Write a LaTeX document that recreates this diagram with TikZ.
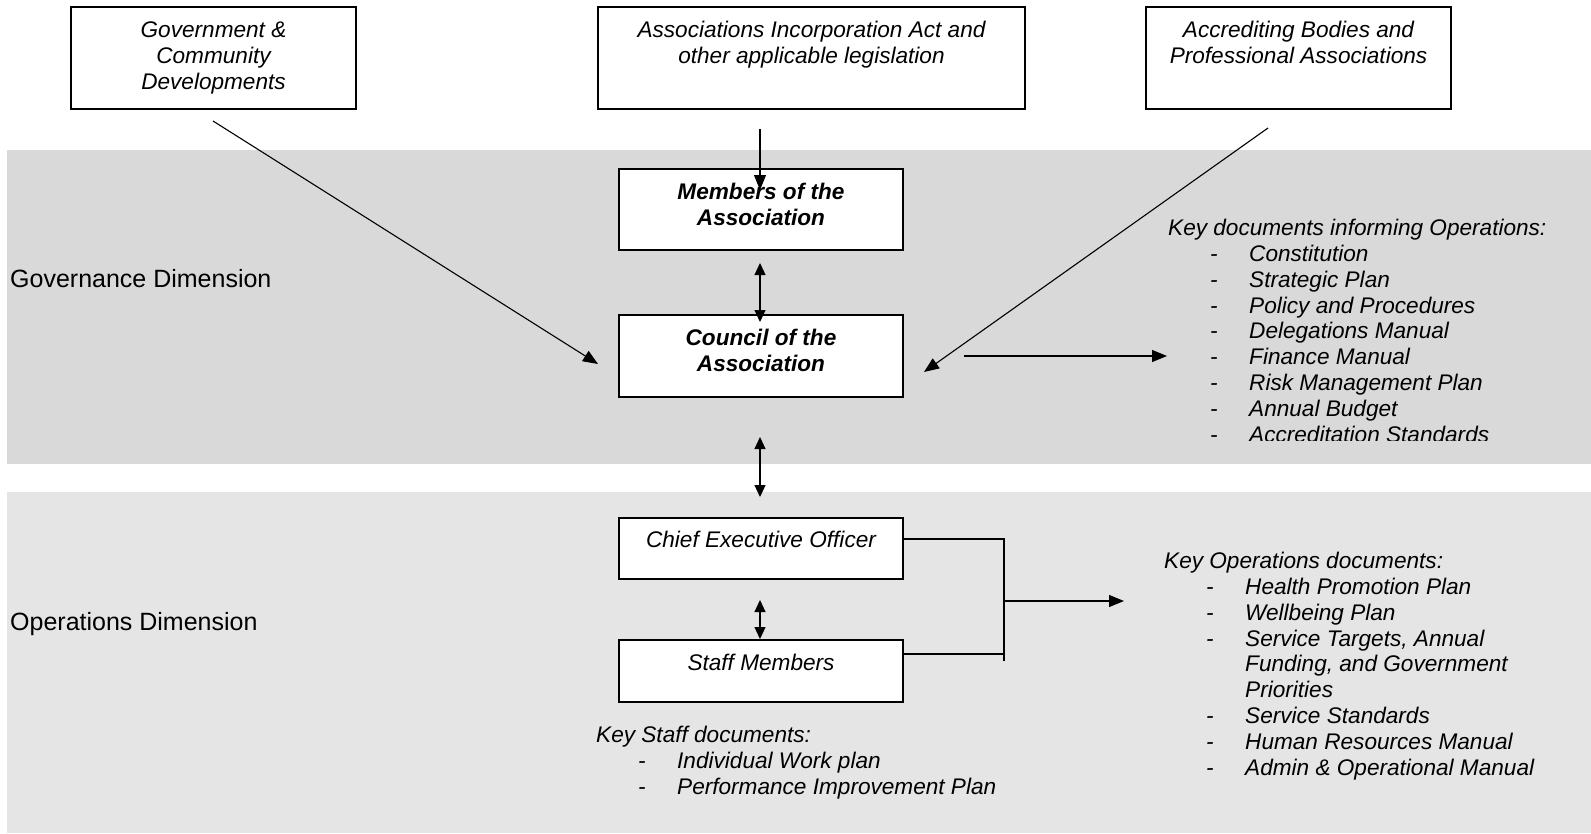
\documentclass[tikz,border=0pt]{standalone}
\usepackage{fontspec}
\setmainfont{Liberation Sans}
\usetikzlibrary{arrows.meta}
\definecolor{govband}{HTML}{D9D9D9}
\definecolor{opsband}{HTML}{E5E5E5}
\newcommand{\lstitem}[1]{\hspace*{42pt}\makebox[39pt][l]{-}#1}
\begin{document}
\begin{tikzpicture}[x=1pt,y=-1pt,
  box/.style={draw=black, line width=1.2pt, fill=white, inner sep=0pt, minimum height=#1},
  txt/.style={inner sep=0pt, align=center, anchor=base, font=\fontsize{22.6}{26}\selectfont\itshape},
  btxt/.style={inner sep=0pt, align=center, anchor=base, font=\fontsize{22.6}{26.5}\selectfont\bfseries\itshape},
  lst/.style={inner sep=0pt, align=left, anchor=base west, font=\fontsize{22.6}{25.8}\selectfont\itshape},
  dimlabel/.style={inner sep=0pt, anchor=base west, font=\fontsize{25}{30}\selectfont},
  arr/.style={line width=1.1pt, -{Triangle[length=15pt,width=12pt]}},
  darr/.style={line width=1.1pt, {Triangle[length=12pt,width=11pt]}-{Triangle[length=12pt,width=11pt]}},
  ln/.style={line width=1.2pt}
]
\useasboundingbox (0,0) rectangle (1591,833);
\fill[white] (0,0) rectangle (1591,833);
\fill[govband] (7,150) rectangle (1591,464);
\fill[opsband] (7,492) rectangle (1591,833);

% top boxes
\node[box=102pt, minimum width=285pt] (gcd) at (213.5,58) {};
\node[txt] (gcdt) at (213.5,89) {Government \&\\Community\\Developments};
\node[box=102pt, minimum width=427pt] (aia) at (811.5,58) {};
\node[txt] (aiat) at (811.5,63) {Associations Incorporation Act and\\other applicable legislation};
\node[box=102pt, minimum width=305pt] (abp) at (1298.5,58) {};
\node[txt] (abpt) at (1298.5,63) {Accrediting Bodies and\\Professional Associations};

% middle boxes
\node[box=81pt, minimum width=284pt] (mem) at (761,209.5) {};
\node[btxt] (memt) at (761,225.5) {Members of the\\Association};
\node[box=82pt, minimum width=284pt] (cou) at (761,356) {};
\node[btxt] (cout) at (761,371.5) {Council of the\\Association};
\node[box=61pt, minimum width=284pt] (ceo) at (761,548.5) {};
\node[txt] (ceot) at (761,547) {Chief Executive Officer};
\node[box=62pt, minimum width=284pt] (stf) at (761,671) {};
\node[txt] (stft) at (761,670) {Staff Members};

% dimension labels
\node[dimlabel] (govl) at (10,287) {Governance Dimension};
\node[dimlabel] (opsl) at (10,630) {Operations Dimension};

% lists (anchored at the baseline of their last line)
\begin{scope}
\clip (1100,150) rectangle (1591,440);
\node[lst] (govdocs) at (1168,442) {Key documents informing Operations:\\
\lstitem{Constitution}\\
\lstitem{Strategic Plan}\\
\lstitem{Policy and Procedures}\\
\lstitem{Delegations Manual}\\
\lstitem{Finance Manual}\\
\lstitem{Risk Management Plan}\\
\lstitem{Annual Budget}\\
\lstitem{Accreditation Standards}};
\end{scope}
\node[lst] (opsdocs) at (1164,775) {Key Operations documents:\\
\lstitem{Health Promotion Plan}\\
\lstitem{Wellbeing Plan}\\
\lstitem{Service Targets, Annual}\\
\hspace*{81pt}Funding, and Government\\
\hspace*{81pt}Priorities\\
\lstitem{Service Standards}\\
\lstitem{Human Resources Manual}\\
\lstitem{Admin \& Operational Manual}};
\node[lst] (stfdocs) at (596,794) {Key Staff documents:\\
\lstitem{Individual Work plan}\\
\lstitem{Performance Improvement Plan}};

% connector end points
\coordinate (a1s) at (213,121);
\coordinate (a1e) at (598,364);
\coordinate (a2s) at (760,129);
\coordinate (a2e) at (760,190);
\coordinate (a3s) at (760,263);
\coordinate (a3e) at (760,322);
\coordinate (a4s) at (760,437);
\coordinate (a4e) at (760,497);
\coordinate (a5s) at (760,600);
\coordinate (a5e) at (760,639);
\coordinate (a6s) at (1268,128);
\coordinate (a6e) at (924,372);
\coordinate (a7s) at (964,356);
\coordinate (a7e) at (1167,356);
\coordinate (brt) at (1004,538);
\coordinate (brb) at (1004,661);
\coordinate (brm) at (1004,601);
\coordinate (a8e) at (1124,601);

\draw[arr] (a1s) -- (a1e);
\draw[arr] (a2s) -- (a2e);
\draw[darr] (a3s) -- (a3e);
\draw[darr] (a4s) -- (a4e);
\draw[darr] (a5s) -- (a5e);
\draw[arr] (a6s) -- (a6e);
\draw[arr] (a7s) -- (a7e);
\draw[ln] (ceo.east |- 0,539) -- (1004,539);
\draw[ln] (stf.east |- 0,654) -- (1004,654);
\draw[ln] (brt) -- (brb);
\draw[arr] (brm) -- (a8e);
\end{tikzpicture}
\end{document}
